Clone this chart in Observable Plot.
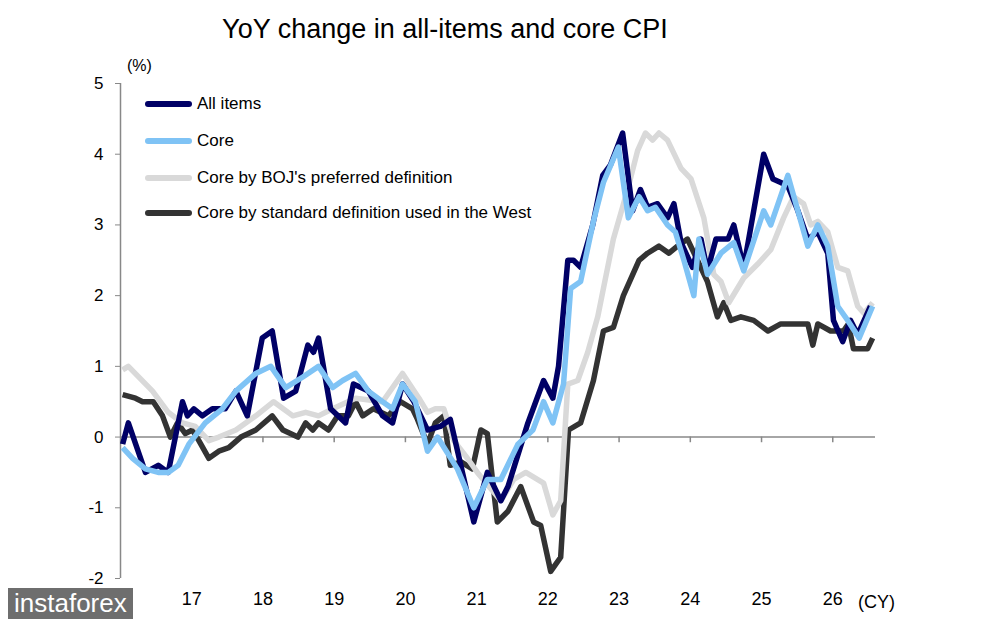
<!DOCTYPE html>
<html><head><meta charset="utf-8">
<script src="https://cdn.jsdelivr.net/npm/d3@7"></script>
<script src="https://cdn.jsdelivr.net/npm/@observablehq/plot@0.6"></script>
<style>
body{margin:0;background:#fff;font-family:"Liberation Sans",Arial,sans-serif;}
#wrap{position:relative;width:993px;height:630px;overflow:hidden}
#title{position:absolute;left:0;width:890px;top:14px;text-align:center;font-size:27px;color:#000}
.lg{position:absolute;left:145px;font-size:17px;color:#000;display:flex;align-items:center}
.lg span{display:inline-block;width:47px;height:6px;margin-right:5px;border-radius:3px}
#unit{position:absolute;left:127px;top:57px;font-size:16px}
#cy{position:absolute;left:858px;top:592px;font-size:18px}
#wm{position:absolute;left:8px;top:588px;font-size:26px;color:#fff;background:#555;padding:0 6px;opacity:.85}
</style></head><body>
<div id="wrap">
<div id="chart"></div>
<div id="title">YoY change in all-items and core CPI</div>
<div id="unit">(%)</div>
<div id="legend"></div>
<div id="cy">(CY)</div>
<div id="wm">instaforex</div>
</div>
<script>
// t = years since Jan 2016
const seriesNames = ["All items","Core","Core by BOJ's preferred definition","Core by standard definition used in the West"];
const seriesColors = ["#000066","#7fc3f5","#d9d9d9","#333333"];
const allItems = [[0.03,-0.1],[0.11,0.2],[0.35,-0.5],[0.53,-0.4],[0.67,-0.5],[0.87,0.5],[0.94,0.3],[1.03,0.4],[1.15,0.3],[1.29,0.4],[1.47,0.4],[1.62,0.65],[1.78,0.3],[1.99,1.4],[2.13,1.5],[2.29,0.55],[2.46,0.65],[2.63,1.3],[2.71,1.2],[2.78,1.4],[2.95,0.4],[3.16,0.2],[3.27,0.75],[3.48,0.65],[3.68,0.3],[3.82,0.2],[3.96,0.75],[4.12,0.5],[4.31,0.1],[4.49,0.15],[4.63,0.25],[4.96,-1.2],[5.15,-0.5],[5.34,-0.9],[5.44,-0.7],[5.72,0.2],[5.94,0.8],[6.07,0.55],[6.15,1.0],[6.28,2.5],[6.36,2.5],[6.46,2.4],[6.63,3.0],[6.77,3.7],[6.88,3.85],[7.05,4.3],[7.19,3.2],[7.30,3.5],[7.40,3.25],[7.54,3.3],[7.68,3.1],[7.77,3.3],[7.87,2.75],[8.03,2.4],[8.15,2.8],[8.24,2.35],[8.36,2.8],[8.53,2.8],[8.61,3.0],[8.75,2.4],[9.03,4.0],[9.16,3.65],[9.27,3.6],[9.37,3.55],[9.51,3.2],[9.65,2.8],[9.79,2.9],[9.93,2.6],[10.01,1.65],[10.14,1.35],[10.25,1.65],[10.35,1.45],[10.53,1.85]];
const core = [[0.03,-0.15],[0.17,-0.3],[0.35,-0.45],[0.53,-0.5],[0.67,-0.5],[0.81,-0.4],[0.96,-0.1],[1.19,0.2],[1.43,0.4],[1.62,0.65],[1.90,0.9],[2.11,1.0],[2.32,0.7],[2.56,0.85],[2.78,1.0],[2.98,0.7],[3.12,0.8],[3.30,0.9],[3.48,0.65],[3.68,0.5],[3.82,0.4],[3.96,0.75],[4.14,0.5],[4.31,-0.2],[4.45,0],[4.73,-0.45],[4.96,-1.0],[5.15,-0.6],[5.34,-0.6],[5.58,-0.1],[5.79,0.1],[5.94,0.5],[6.07,0.2],[6.22,0.75],[6.32,2.1],[6.46,2.2],[6.64,3.05],[6.78,3.6],[6.99,4.1],[7.13,3.1],[7.28,3.4],[7.40,3.2],[7.51,3.25],[7.68,3.0],[7.79,2.9],[7.91,2.5],[8.05,2.0],[8.12,2.8],[8.24,2.3],[8.43,2.6],[8.61,2.75],[8.75,2.35],[9.03,3.2],[9.13,3.0],[9.37,3.7],[9.51,3.2],[9.65,2.7],[9.79,3.0],[9.93,2.7],[10.07,1.85],[10.21,1.65],[10.37,1.4],[10.56,1.85]];
const coreBOJ = [[0.03,0.95],[0.11,1.0],[0.45,0.65],[0.67,0.35],[0.87,0.2],[1.05,0.15],[1.24,-0.05],[1.38,0],[1.62,0.1],[1.90,0.3],[2.15,0.5],[2.42,0.3],[2.60,0.35],[2.78,0.3],[2.98,0.4],[3.30,0.55],[3.68,0.5],[3.96,0.9],[4.19,0.55],[4.31,0.35],[4.42,0.4],[4.54,0.4],[4.68,-0.05],[4.87,-0.3],[5.01,-0.5],[5.34,-0.9],[5.52,-0.6],[5.69,-0.5],[5.94,-0.65],[6.07,-1.1],[6.18,-0.9],[6.28,0.75],[6.42,0.8],[6.56,1.2],[6.70,1.7],[6.78,2.1],[6.92,2.8],[7.12,3.5],[7.26,4.05],[7.37,4.3],[7.47,4.2],[7.56,4.3],[7.68,4.2],[7.87,3.8],[8.01,3.65],[8.19,3.1],[8.33,2.3],[8.43,2.2],[8.54,1.9],[8.75,2.25],[8.95,2.45],[9.13,2.65],[9.31,3.1],[9.45,3.4],[9.59,3.3],[9.69,3.0],[9.79,3.05],[9.93,2.9],[10.07,2.4],[10.21,2.35],[10.35,1.85],[10.44,1.75],[10.56,1.9]];
const coreWest = [[0.03,0.6],[0.21,0.55],[0.31,0.5],[0.46,0.5],[0.59,0.3],[0.70,0],[0.80,0.2],[0.91,0.05],[1.01,0.1],[1.10,-0.05],[1.24,-0.3],[1.38,-0.2],[1.52,-0.15],[1.69,0],[1.90,0.1],[2.13,0.3],[2.28,0.1],[2.49,0],[2.60,0.2],[2.70,0.1],[2.78,0.2],[2.92,0.1],[3.05,0.3],[3.20,0.3],[3.30,0.5],[3.40,0.3],[3.55,0.4],[3.76,0.3],[3.93,0.5],[4.10,0.4],[4.17,0.25],[4.31,-0.1],[4.42,0.2],[4.54,0.3],[4.63,-0.4],[4.78,-0.35],[4.94,-0.45],[5.06,0.1],[5.15,0.05],[5.29,-1.2],[5.44,-1.05],[5.62,-0.7],[5.80,-1.2],[5.90,-1.25],[6.04,-1.9],[6.18,-1.7],[6.29,0.1],[6.46,0.2],[6.64,0.8],[6.78,1.5],[6.92,1.55],[7.06,2.0],[7.28,2.5],[7.40,2.6],[7.56,2.7],[7.70,2.6],[7.82,2.7],[7.96,2.8],[8.10,2.5],[8.24,2.2],[8.38,1.7],[8.47,1.9],[8.57,1.65],[8.71,1.7],[8.89,1.65],[9.09,1.5],[9.27,1.6],[9.65,1.6],[9.72,1.3],[9.79,1.6],[9.97,1.5],[10.15,1.5],[10.22,1.6],[10.29,1.25],[10.49,1.25],[10.56,1.4]];
const yearTicks = [1,2,3,4,5,6,7,8,9,10];
const yearLabels = ["17","18","19","20","21","22","23","24","25","26"];
const yTicks = [-2,-1,0,1,2,3,4,5];

const all = [allItems, core, coreBOJ, coreWest];
const rows = [];
const order = [3,2,0,1];
order.forEach(i => all[i].forEach(([t,v]) => rows.push({t, v, s: seriesNames[i]})));

const chart = Plot.plot({
  width: 993, height: 630,
  marginLeft: 120, marginRight: 118, marginTop: 83, marginBottom: 52,
  x: {domain: [0, 10.6]},
  y: {domain: [-2, 5]},
  color: {domain: seriesNames, range: seriesColors},
  style: {fontFamily: "Liberation Sans, Arial, sans-serif", fontSize: "17px", color: "#000"},
  marks: [
    Plot.axisY(yTicks, {anchor: "left", tickSize: 5, tickPadding: 12, stroke: "#888", fontSize: 17, label: null, tickFormat: d => String(d)}),
    Plot.axisX(yearTicks, {anchor: "bottom", tickSize: 0, tickPadding: 14, fontSize: 18, label: null, tickFormat: (d, i) => yearLabels[yearTicks.indexOf(d)]}),
    Plot.ruleX([0], {y1: -2, y2: 5, stroke: "#888", strokeWidth: 1.5}),
    Plot.ruleY([0], {x1: 0, x2: 10.6, stroke: "#888", strokeWidth: 1.5}),
    Plot.ruleX(yearTicks, {x: d => d, y1: 0, y2: -0.08, stroke: "#888", strokeWidth: 1.5}),
    Plot.line(rows, {x: "t", y: "v", z: "s", stroke: "s", strokeWidth: 5.5, strokeLinejoin: "round", strokeLinecap: "butt"})
  ]
});
chart.style.position = "absolute"; chart.style.left = "0"; chart.style.top = "0";
document.getElementById("chart").appendChild(chart);

const lg = document.getElementById("legend");
const tops = [94, 131, 168, 203];
seriesNames.forEach((n, i) => {
  const d = document.createElement("div");
  d.className = "lg"; d.style.top = tops[i] + "px";
  d.innerHTML = `<span style="background:${seriesColors[i]}"></span>${n}`;
  lg.appendChild(d);
});
</script>
</body></html>
